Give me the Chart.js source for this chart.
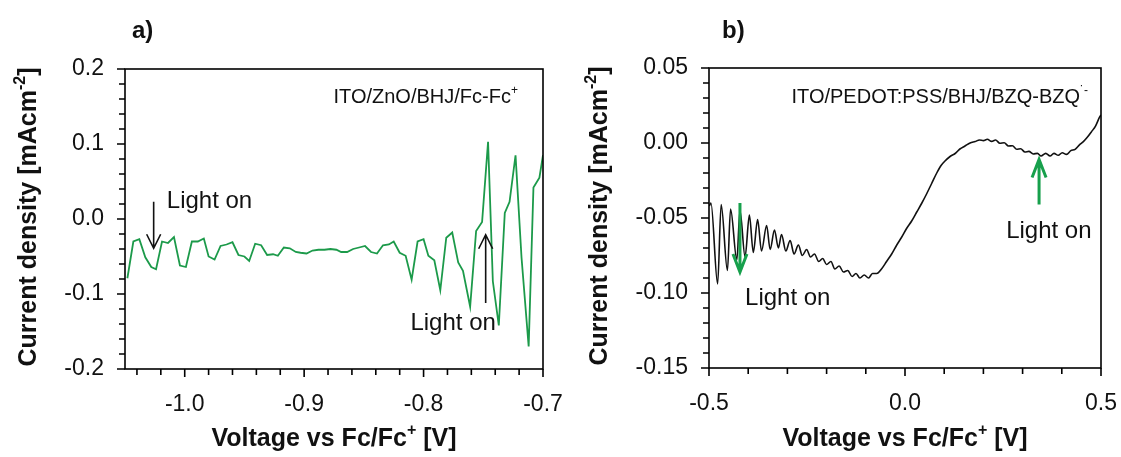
<!DOCTYPE html>
<html>
<head>
<meta charset="utf-8">
<script src="https://cdn.jsdelivr.net/npm/chart.js@4.4.0/dist/chart.umd.min.js"></script>
<style>
html, body { margin: 0; padding: 0; background: #fff; }
#wrap { position: relative; width: 1121px; height: 457px; overflow: hidden; }
canvas { position: absolute; top: 0; }
#ca { left: 0; }
#cb { left: 560px; }
</style>
</head>
<body>
<div id="wrap">
  <canvas id="ca" width="580" height="457"></canvas>
  <canvas id="cb" width="561" height="457"></canvas>
</div>
<script>
var FONT = '"Liberation Sans", Arial, sans-serif';

// a) ITO/ZnO/BHJ/Fc-Fc+
var aVoltage = [-1.048,-1.043,-1.038,-1.033,-1.028,-1.024,-1.019,-1.014,-1.009,-1.004,
  -0.999,-0.994,-0.989,-0.984,-0.980,-0.975,-0.970,-0.965,-0.960,-0.955,
  -0.950,-0.946,-0.941,-0.936,-0.931,-0.926,-0.922,-0.917,-0.912,-0.907,
  -0.903,-0.898,-0.893,-0.888,-0.883,-0.878,-0.873,-0.869,-0.864,-0.859,
  -0.854,-0.849,-0.844,-0.839,-0.834,-0.829,-0.825,-0.820,-0.815,-0.810,
  -0.805,-0.800,-0.796,-0.791,-0.786,-0.781,-0.776,-0.771,-0.767,-0.761,
  -0.756,-0.751,-0.746,-0.742,-0.737,-0.732,-0.728,-0.723,-0.718,-0.712,
  -0.708,-0.703,-0.700];
var aCurrent = [-0.079,-0.030,-0.027,-0.051,-0.064,-0.067,-0.030,-0.032,-0.024,-0.062,
  -0.064,-0.030,-0.030,-0.026,-0.050,-0.054,-0.036,-0.034,-0.031,-0.048,
  -0.050,-0.056,-0.033,-0.035,-0.048,-0.047,-0.049,-0.038,-0.039,-0.044,
  -0.045,-0.046,-0.042,-0.041,-0.041,-0.040,-0.041,-0.044,-0.044,-0.040,
  -0.038,-0.036,-0.044,-0.046,-0.035,-0.034,-0.030,-0.045,-0.049,-0.081,
  -0.030,-0.027,-0.049,-0.055,-0.095,-0.025,-0.018,-0.058,-0.069,-0.117,
  -0.016,-0.004,0.103,-0.083,-0.142,0.008,0.023,0.085,-0.051,-0.170,
  0.042,0.055,0.085];
var aXTicks = [-1.04,-1.02,-1.00,-0.98,-0.96,-0.94,-0.92,-0.90,-0.88,-0.86,-0.84,-0.82,-0.80,-0.78,-0.76,-0.74,-0.72,-0.70];
var aXMajor = [-1.0,-0.9,-0.8,-0.7];
var aXLabels = ['-1.0','-0.9','-0.8','-0.7'];
var aYTicks = [-0.20,-0.18,-0.16,-0.14,-0.12,-0.10,-0.08,-0.06,-0.04,-0.02,0,0.02,0.04,0.06,0.08,0.10,0.12,0.14,0.16,0.18,0.20];
var aYMajor = [-0.2,-0.1,0,0.1,0.2];
var aYLabels = ['-0.2','-0.1','0.0','0.1','0.2'];
// arrows: [voltage, start current, tip current]
var aArrows = [[-1.026, 0.023, -0.039], [-0.748, -0.112, -0.021]];
// notes: [text, left voltage, baseline current]
var aNotes = [['Light on', -1.015, 0.015], ['Light on', -0.811, -0.148]];

// b) ITO/PEDOT:PSS/BHJ/BZQ-BZQ-
var bVoltage = [-0.499,-0.495,-0.478,-0.469,-0.453,-0.445,-0.429,-0.421,-0.408,-0.397,
  -0.387,-0.376,-0.366,-0.353,-0.344,-0.333,-0.323,-0.315,-0.304,-0.293,
  -0.283,-0.272,-0.262,-0.251,-0.241,-0.231,-0.220,-0.210,-0.200,-0.189,
  -0.179,-0.168,-0.157,-0.146,-0.135,-0.125,-0.115,-0.104,-0.093,-0.083,
  -0.072,-0.060,-0.047,-0.034,-0.021,-0.009,0.004,0.017,0.030,0.043,
  0.055,0.068,0.081,0.092,0.102,0.115,0.128,0.140,0.153,0.166,
  0.179,0.190,0.200,0.210,0.221,0.231,0.242,0.253,0.264,0.274,
  0.285,0.295,0.306,0.316,0.327,0.338,0.347,0.359,0.370,0.380,
  0.391,0.401,0.412,0.423,0.434,0.445,0.455,0.465,0.476,0.486,
  0.497,0.500];
var bCurrent = [-0.042,-0.040,-0.094,-0.041,-0.085,-0.044,-0.078,-0.045,-0.076,-0.048,
  -0.073,-0.051,-0.072,-0.055,-0.071,-0.058,-0.070,-0.061,-0.072,-0.065,
  -0.074,-0.068,-0.075,-0.071,-0.076,-0.074,-0.079,-0.077,-0.081,-0.079,
  -0.084,-0.082,-0.086,-0.085,-0.089,-0.087,-0.090,-0.088,-0.090,-0.087,
  -0.087,-0.084,-0.079,-0.074,-0.068,-0.063,-0.057,-0.052,-0.046,-0.040,
  -0.034,-0.027,-0.020,-0.015,-0.012,-0.009,-0.007,-0.004,-0.002,0.000,
  0.001,0.002,0.0016,0.0025,0.0011,0.002,-0.0002,0.0002,-0.002,-0.0018,
  -0.0042,-0.0038,-0.006,-0.0056,-0.0073,-0.0069,-0.0087,-0.0069,-0.0087,-0.0069,
  -0.0082,-0.0065,-0.0076,-0.0051,-0.0042,-0.0013,0.0009,0.0038,0.0076,0.0113,
  0.0176,0.0187];
var bXTicks = [-0.5,-0.4,-0.3,-0.2,-0.1,0,0.1,0.2,0.3,0.4,0.5];
var bXMajor = [-0.5,0,0.5];
var bXLabels = ['-0.5','0.0','0.5'];
var bYTicks = [-0.15,-0.14,-0.13,-0.12,-0.11,-0.10,-0.09,-0.08,-0.07,-0.06,-0.05,-0.04,-0.03,-0.02,-0.01,0,0.01,0.02,0.03,0.04,0.05];
var bYMajor = [-0.15,-0.10,-0.05,0,0.05];
var bYLabels = ['-0.15','-0.10','-0.05','0.00','0.05'];
var bArrows = [[-0.421, -0.040, -0.086], [0.342, -0.041, -0.011]];
var bNotes = [['Light on', -0.408, -0.108], ['Light on', 0.258, -0.063]];

Chart.defaults.font.family = FONT;

// text with superscript parts: [[text, isSup], ...]
function richText(ctx, parts, x, y, size, weight, align) {
  var w = 0;
  parts.forEach(function(p) {
    ctx.font = weight + ' ' + (p[1] ? Math.round(size * 0.62) : size) + 'px ' + FONT;
    w += ctx.measureText(p[0]).width;
  });
  var cx = align == 'center' ? x - w / 2 : (align == 'right' ? x - w : x);
  ctx.textAlign = 'left';
  ctx.textBaseline = 'alphabetic';
  parts.forEach(function(p) {
    ctx.font = weight + ' ' + (p[1] ? Math.round(size * 0.62) : size) + 'px ' + FONT;
    ctx.fillText(p[0], cx, p[1] ? y - size * 0.45 : y);
    cx += ctx.measureText(p[0]).width;
  });
}

function drawArrow(ctx, x, y0, y1, color, lw, headLen, headW) {
  var dir = y1 > y0 ? 1 : -1;
  ctx.strokeStyle = color;
  ctx.lineWidth = lw;
  ctx.lineCap = 'butt';
  ctx.beginPath();
  ctx.moveTo(x, y0);
  ctx.lineTo(x, y1);
  ctx.moveTo(x - headW / 2, y1 - dir * headLen);
  ctx.lineTo(x, y1);
  ctx.lineTo(x + headW / 2, y1 - dir * headLen);
  ctx.stroke();
}

function isMajor(list, v) {
  return list.some(function(m) { return Math.abs(m - v) < 1e-6; });
}

function makePanel(id, p) {
  var deco = {
    id: 'deco' + id,
    afterDraw: function(chart) {
      var ctx = chart.ctx, a = chart.chartArea, sx = chart.scales.x, sy = chart.scales.y;
      ctx.save();
      ctx.strokeStyle = '#000';
      ctx.lineWidth = 1.6;
      ctx.strokeRect(a.left, a.top, a.right - a.left, a.bottom - a.top);
      ctx.beginPath();
      p.xTicks.forEach(function(v) {
        var px = sx.getPixelForValue(v);
        var len = isMajor(p.xMajor, v) ? 8 : 6;
        ctx.moveTo(px, a.bottom);
        ctx.lineTo(px, a.bottom + len);
      });
      p.yTicks.forEach(function(v) {
        var py = sy.getPixelForValue(v);
        var len = isMajor(p.yMajor, v) ? 8 : 6;
        ctx.moveTo(a.left, py);
        ctx.lineTo(a.left - len, py);
      });
      ctx.stroke();

      // arrows and notes
      p.arrows.forEach(function(ar) {
        drawArrow(ctx, sx.getPixelForValue(ar[0]), sy.getPixelForValue(ar[1]), sy.getPixelForValue(ar[2]),
          p.arrowColor, p.arrowLw, p.headLen, 14);
      });
      ctx.fillStyle = '#111';
      p.notes.forEach(function(n) {
        richText(ctx, [[n[0], false]], sx.getPixelForValue(n[1]), sy.getPixelForValue(n[2]), 24, 'normal', 'left');
      });
      richText(ctx, p.label, sx.getPixelForValue(p.labelPos[0]), sy.getPixelForValue(p.labelPos[1]), 20, 'normal', 'right');

      // axis titles
      richText(ctx, [['Voltage vs Fc/Fc', false], ['+', true], [' [V]', false]],
        (a.left + a.right) / 2, 446, 25, 'bold', 'center');
      ctx.save();
      ctx.translate(p.yTitleX, (a.top + a.bottom) / 2 - 2);
      ctx.rotate(-Math.PI / 2);
      richText(ctx, [['Current density [mAcm', false], ['-2', true], [']', false]], 0, 0, 25, 'bold', 'center');
      ctx.restore();

      ctx.font = 'bold 24px ' + FONT;
      ctx.textAlign = 'left';
      ctx.fillText(p.letter, p.letterX, 38);
      ctx.restore();
    }
  };

  return new Chart(document.getElementById(id), {
    type: 'line',
    data: {
      datasets: [{
        data: p.v.map(function(v, i) { return { x: v, y: p.c[i] }; }),
        borderColor: p.color,
        borderWidth: p.lw,
        pointRadius: 0,
        fill: false,
        tension: 0,
        cubicInterpolationMode: p.smooth ? 'monotone' : 'default'
      }]
    },
    options: {
      responsive: false,
      animation: false,
      devicePixelRatio: 1,
      layout: { padding: { left: 0, right: p.padRight, top: p.padTop, bottom: 0 } },
      plugins: { legend: { display: false }, tooltip: { enabled: false } },
      scales: {
        x: {
          type: 'linear', min: p.xMin, max: p.xMax,
          grid: { display: false, drawTicks: true, tickLength: 8 },
          border: { display: false },
          afterBuildTicks: function(s) { s.ticks = p.xMajor.map(function(v) { return { value: v }; }); },
          afterFit: function(s) { s.height = p.xHeight; s.paddingLeft = 0; s.paddingRight = 0; },
          ticks: {
            autoSkip: false, maxRotation: 0, padding: 14, color: '#111', font: { size: 23 },
            callback: function(v, i) { return p.xLabels[i]; }
          }
        },
        y: {
          type: 'linear', min: p.yMin, max: p.yMax,
          grid: { display: false, drawTicks: true, tickLength: 8 },
          border: { display: false },
          afterBuildTicks: function(s) { s.ticks = p.yMajor.map(function(v) { return { value: v }; }); },
          afterFit: function(s) { s.width = p.yWidth; s.paddingTop = 0; s.paddingBottom = 0; },
          ticks: {
            autoSkip: false, padding: 13, color: '#111', font: { size: 23 },
            callback: function(v, i) { return p.yLabels[i]; }
          }
        }
      }
    },
    plugins: [deco]
  });
}

makePanel('ca', {
  v: aVoltage, c: aCurrent, color: '#1c9a4a', lw: 1.8, smooth: false,
  xMin: -1.05, xMax: -0.7, yMin: -0.2, yMax: 0.2,
  xTicks: aXTicks, xMajor: aXMajor, xLabels: aXLabels,
  yTicks: aYTicks, yMajor: aYMajor, yLabels: aYLabels,
  arrows: aArrows, notes: aNotes, arrowColor: '#111', arrowLw: 1.6, headLen: 14,
  label: [['ITO/ZnO/BHJ/Fc-Fc', false], ['+', true]], labelPos: [-0.721, 0.155],
  padRight: 37, padTop: 69, yWidth: 125, xHeight: 88,
  yTitleX: 36, letter: 'a)', letterX: 132
});

makePanel('cb', {
  v: bVoltage, c: bCurrent, color: '#111', lw: 1.6, smooth: true,
  xMin: -0.5, xMax: 0.5, yMin: -0.15, yMax: 0.05,
  xTicks: bXTicks, xMajor: bXMajor, xLabels: bXLabels,
  yTicks: bYTicks, yMajor: bYMajor, yLabels: bYLabels,
  arrows: bArrows, notes: bNotes, arrowColor: '#17a04c', arrowLw: 3, headLen: 18,
  label: [['ITO/PEDOT:PSS/BHJ/BZQ-BZQ', false], ['\u02d9-', true]], labelPos: [0.467, 0.027],
  padRight: 20, padTop: 68, yWidth: 149, xHeight: 89,
  yTitleX: 47, letter: 'b)', letterX: 162
});
</script>
</body>
</html>
